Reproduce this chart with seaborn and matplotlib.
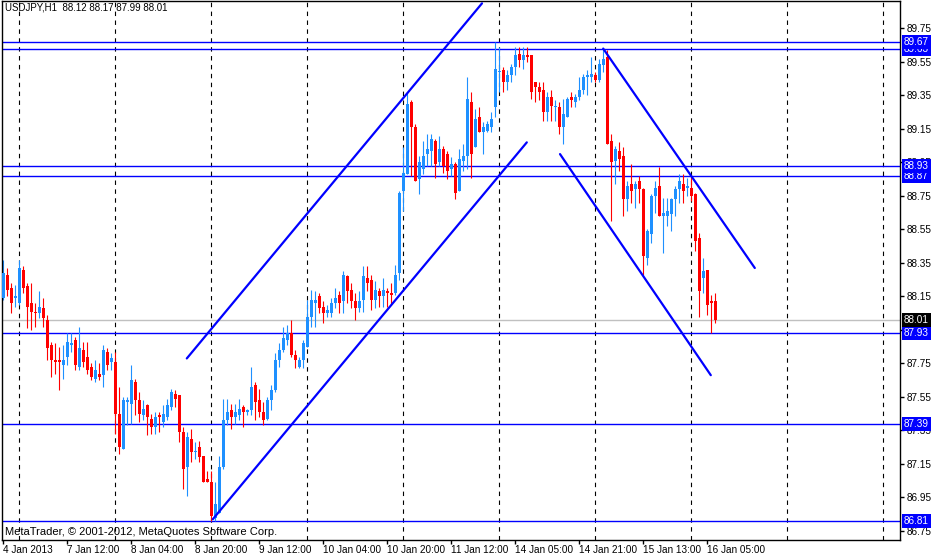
import numpy as np
import matplotlib
matplotlib.use("Agg")
import matplotlib.pyplot as plt
import seaborn as sns

# USDJPY H1 candles, bar 0 = 4 Jan 2013 20:00
opens = [88.14, 88.28, 88.20, 88.14, 88.11, 88.31, 88.21, 88.11, 88.06, 88.05,
         88.08, 88.01, 87.86, 87.77, 87.77, 87.74, 87.79, 87.86, 87.89, 87.73,
         87.83, 87.79, 87.73, 87.66, 87.69, 87.68, 87.82, 87.76, 87.76, 87.45,
         87.24, 87.52, 87.51, 87.64, 87.53, 87.44, 87.50, 87.42, 87.37, 87.44,
         87.40, 87.43, 87.49, 87.57, 87.56, 87.34, 87.13, 87.30, 87.22, 87.25,
         87.20, 87.06, 87.04, 86.83, 86.86, 87.13, 87.41, 87.47, 87.43, 87.44,
         87.49, 87.46, 87.47, 87.62, 87.53, 87.46, 87.42, 87.53, 87.59, 87.77,
         87.83, 87.89, 87.93, 87.80, 87.73, 87.77, 87.85, 88.03, 88.11, 88.15,
         88.09, 88.05, 88.05, 88.11, 88.16, 88.12, 88.27, 88.19, 88.12, 88.08,
         88.13, 88.26, 88.25, 88.13, 88.18, 88.15, 88.18, 88.17, 88.17, 88.29,
         88.78, 88.88, 89.31, 89.16, 88.85, 88.91, 89.00, 89.02, 89.08, 88.95,
         89.03, 89.00, 88.91, 88.94, 88.78, 88.96, 88.99, 89.31, 89.04, 89.22,
         89.13, 89.14, 89.16, 89.28, 89.49, 89.50, 89.43, 89.47, 89.52, 89.60,
         89.56, 89.59, 89.59, 89.43, 89.40, 89.38, 89.25, 89.34, 89.28, 89.28,
         89.16, 89.22, 89.34, 89.31, 89.34, 89.38, 89.46, 89.46, 89.47, 89.44,
         89.53, 89.58, 89.08, 88.96, 89.02, 88.99, 88.73, 88.82, 88.79, 88.84,
         88.79, 88.38, 88.52, 88.75, 88.81, 88.63, 88.63, 88.64, 88.73, 88.79,
         88.82, 88.80, 88.80, 88.76, 88.50, 88.26, 88.31, 88.12, 88.12]
highs = [88.37, 88.32, 88.23, 88.22, 88.37, 88.33, 88.23, 88.23, 88.11, 88.18,
         88.14, 88.04, 87.88, 87.87, 87.85, 87.86, 87.93, 87.93, 87.91, 87.97,
         87.88, 87.88, 87.75, 87.77, 87.75, 87.86, 87.84, 87.81, 87.82, 87.61,
         87.55, 87.55, 87.74, 87.66, 87.58, 87.53, 87.51, 87.45, 87.46, 87.46,
         87.50, 87.54, 87.60, 87.59, 87.56, 87.37, 87.34, 87.36, 87.28, 87.29,
         87.20, 87.11, 87.11, 87.04, 87.20, 87.54, 87.54, 87.51, 87.51, 87.54,
         87.50, 87.48, 87.73, 87.64, 87.60, 87.52, 87.55, 87.62, 87.81, 87.87,
         87.97, 87.98, 88.01, 87.83, 87.79, 87.89, 88.13, 88.19, 88.18, 88.17,
         88.12, 88.10, 88.14, 88.20, 88.18, 88.30, 88.28, 88.23, 88.17, 88.18,
         88.33, 88.33, 88.28, 88.24, 88.20, 88.26, 88.20, 88.23, 88.34, 88.78,
         89.04, 89.37, 89.32, 89.18, 88.99, 89.08, 89.12, 89.12, 89.09, 89.11,
         89.05, 89.02, 88.98, 88.95, 89.03, 89.06, 89.46, 89.37, 89.27, 89.28,
         89.19, 89.20, 89.25, 89.67, 89.64, 89.52, 89.50, 89.54, 89.64, 89.64,
         89.64, 89.64, 89.59, 89.43, 89.43, 89.43, 89.37, 89.38, 89.32, 89.31,
         89.33, 89.34, 89.37, 89.36, 89.46, 89.48, 89.50, 89.58, 89.49, 89.57,
         89.63, 89.62, 89.12, 89.05, 89.07, 89.04, 88.84, 88.94, 88.84, 88.87,
         88.80, 88.55, 88.76, 88.84, 88.92, 88.74, 88.74, 88.74, 88.81, 88.88,
         88.88, 88.86, 88.87, 88.77, 88.53, 88.38, 88.31, 88.16, 88.17]
lows = [88.13, 88.15, 88.05, 88.09, 88.10, 88.17, 87.96, 87.95, 87.97, 88.02,
        87.97, 87.77, 87.67, 87.69, 87.59, 87.66, 87.74, 87.82, 87.71, 87.71,
        87.73, 87.69, 87.65, 87.64, 87.65, 87.61, 87.71, 87.71, 87.33, 87.21,
        87.24, 87.38, 87.39, 87.44, 87.40, 87.41, 87.32, 87.33, 87.33, 87.34,
        87.37, 87.41, 87.47, 87.49, 87.28, 87.00, 86.96, 87.16, 87.18, 87.16,
        87.04, 87.04, 86.81, 86.81, 86.86, 87.12, 87.38, 87.36, 87.39, 87.41,
        87.37, 87.44, 87.44, 87.41, 87.43, 87.38, 87.41, 87.47, 87.58, 87.73,
        87.82, 87.86, 87.79, 87.72, 87.72, 87.72, 87.85, 87.97, 87.97, 88.05,
        87.99, 88.03, 88.03, 88.08, 88.05, 88.05, 88.11, 88.08, 88.01, 88.06,
        88.06, 88.18, 88.07, 88.08, 88.09, 88.09, 88.09, 88.10, 88.16, 88.25,
        88.66, 88.88, 88.87, 88.84, 88.76, 88.88, 88.93, 88.93, 88.86, 88.93,
        88.89, 88.85, 88.87, 88.73, 88.78, 88.90, 88.91, 88.86, 89.04, 89.13,
        89.00, 89.13, 89.13, 89.22, 89.37, 89.37, 89.38, 89.43, 89.47, 89.52,
        89.51, 89.55, 89.33, 89.31, 89.32, 89.20, 89.20, 89.20, 89.20, 89.12,
        89.06, 89.22, 89.28, 89.28, 89.32, 89.36, 89.35, 89.43, 89.43, 89.43,
        89.49, 89.06, 88.60, 88.82, 88.90, 88.63, 88.66, 88.71, 88.68, 88.71,
        88.28, 88.34, 88.47, 88.65, 88.63, 88.41, 88.57, 88.54, 88.63, 88.71,
        88.71, 88.75, 88.72, 88.42, 88.03, 88.17, 88.04, 87.93, 87.99]
closes = [88.29, 88.19, 88.11, 88.15, 88.32, 88.20, 88.09, 88.06, 88.05, 88.09,
          88.02, 87.84, 87.77, 87.76, 87.76, 87.77, 87.88, 87.87, 87.74, 87.84,
          87.76, 87.71, 87.67, 87.71, 87.67, 87.83, 87.74, 87.78, 87.45, 87.25,
          87.53, 87.53, 87.65, 87.53, 87.45, 87.48, 87.43, 87.37, 87.43, 87.43,
          87.45, 87.50, 87.58, 87.54, 87.34, 87.12, 87.31, 87.22, 87.23, 87.19,
          87.04, 87.04, 86.84, 86.91, 87.13, 87.41, 87.46, 87.43, 87.46, 87.48,
          87.46, 87.47, 87.61, 87.52, 87.46, 87.41, 87.53, 87.59, 87.77, 87.83,
          87.90, 87.93, 87.80, 87.77, 87.77, 87.87, 88.03, 88.13, 88.13, 88.08,
          88.05, 88.07, 88.11, 88.14, 88.11, 88.28, 88.18, 88.12, 88.08, 88.12,
          88.27, 88.23, 88.13, 88.19, 88.15, 88.19, 88.17, 88.16, 88.28, 88.77,
          88.89, 89.30, 89.16, 88.84, 88.95, 88.99, 89.03, 89.09, 88.94, 89.03,
          88.93, 88.90, 88.94, 88.77, 88.97, 88.99, 89.33, 89.00, 89.21, 89.13,
          89.16, 89.18, 89.21, 89.51, 89.49, 89.43, 89.47, 89.52, 89.59, 89.56,
          89.59, 89.58, 89.37, 89.40, 89.37, 89.25, 89.34, 89.29, 89.29, 89.16,
          89.24, 89.33, 89.32, 89.34, 89.38, 89.46, 89.47, 89.48, 89.44, 89.54,
          89.57, 89.06, 88.95, 89.03, 88.97, 88.73, 88.81, 88.78, 88.82, 88.79,
          88.39, 88.54, 88.75, 88.80, 88.63, 88.65, 88.66, 88.73, 88.79, 88.84,
          88.78, 88.81, 88.75, 88.48, 88.18, 88.30, 88.10, 88.11, 88.01]

tick_labels = ["4 Jan 2013", "7 Jan 12:00", "8 Jan 04:00", "8 Jan 20:00",
               "9 Jan 12:00", "10 Jan 04:00", "10 Jan 20:00", "11 Jan 12:00",
               "14 Jan 05:00", "14 Jan 21:00", "15 Jan 13:00", "16 Jan 05:00"]
levels = [89.63, 89.67, 88.87, 88.93, 87.93, 87.39, 86.81]
bid = 88.01
# trend lines as (bar, price) end points
channel_lines = [[(45.9, 87.78), (119.7, 89.90)],
                 [(52.4, 86.82), (130.9, 89.07)],
                 [(150.0, 89.63), (187.9, 88.32)],
                 [(139.2, 89.00), (176.9, 87.68)]]

UP = "#1E90FF"
DOWN = "#FF0000"
LINE = "#0000FF"

sns.set_theme(style="white")
plt.rcParams['font.family'] = ['Liberation Sans', 'DejaVu Sans']

W, H = 938, 557
fig = plt.figure(figsize=(W / 100, H / 100), dpi=100)
ax = fig.add_axes([2 / W, 17 / H, 898 / W, 539 / H])

# period separators
for xg in range(4, 225, 24):
    ax.axvline(xg, color="black", lw=0.8, ls=(0, (4, 4)), zorder=0)

for p in levels:
    ax.axhline(p, color=LINE, lw=1, zorder=1)
ax.axhline(bid, color="#C0C0C0", lw=1, zorder=1)

o = np.array(opens)
c = np.array(closes)
idx = np.arange(len(c))
cols = np.where(c >= o, UP, DOWN)
ax.vlines(idx, lows, highs, colors=cols, lw=0.8, zorder=2)
body_lo = np.minimum(o, c)
body_h = np.maximum(np.abs(c - o), 0.006)
ax.bar(idx, body_h, bottom=body_lo, width=0.75, color=cols, linewidth=0, zorder=3)

for (x0, y0), (x1, y1) in channel_lines:
    ax.plot([x0, x1], [y0, y1], color=LINE, lw=1.6, zorder=4)

ax.set_xlim(-0.3, 224.2)
ax.set_ylim(86.696, 89.914)

yt = np.round(np.arange(86.75, 89.76, 0.2), 2)
ax.yaxis.tick_right()
ax.set_yticks(yt)
ax.set_yticklabels([f"{v:.2f}" for v in yt])
ax.set_xticks(range(0, 179, 16))
ax.set_xticklabels(tick_labels, ha="left")
ax.tick_params(axis="y", right=True, length=3, width=1, color="black",
               labelsize=7.2, pad=2, labelcolor="black")
ax.tick_params(axis="x", bottom=True, length=3, width=1, color="black",
               labelsize=7.2, pad=0.5, labelcolor="black")
for s in ax.spines.values():
    s.set_color("black")
    s.set_linewidth(1)

for p in levels:
    ax.annotate(f"{p:.2f}", xy=(1, p), xycoords=("axes fraction", "data"),
                xytext=(4, 0), textcoords="offset pixels", ha="left", va="center",
                color="white", fontsize=7.2, annotation_clip=False,
                bbox=dict(boxstyle="square,pad=0.2", fc=LINE, ec="none"))
ax.annotate(f"{bid:.2f}", xy=(1, bid), xycoords=("axes fraction", "data"),
            xytext=(4, 0), textcoords="offset pixels", ha="left", va="center",
            color="white", fontsize=7.2, annotation_clip=False,
            bbox=dict(boxstyle="square,pad=0.2", fc="black", ec="none"))

fig.text(5 / W, 1 - 8 / H, f"USDJPY,H1  {opens[-1]:.2f} {highs[-1]:.2f} {lows[-1]:.2f} {closes[-1]:.2f}",
         fontsize=7, va="center", ha="left", color="black")
fig.text(5 / W, 1 - 532 / H, "MetaTrader, \u00a9 2001-2012, MetaQuotes Software Corp.",
         fontsize=8, va="center", ha="left", color="black")

fig.savefig("out.png", dpi=100)
